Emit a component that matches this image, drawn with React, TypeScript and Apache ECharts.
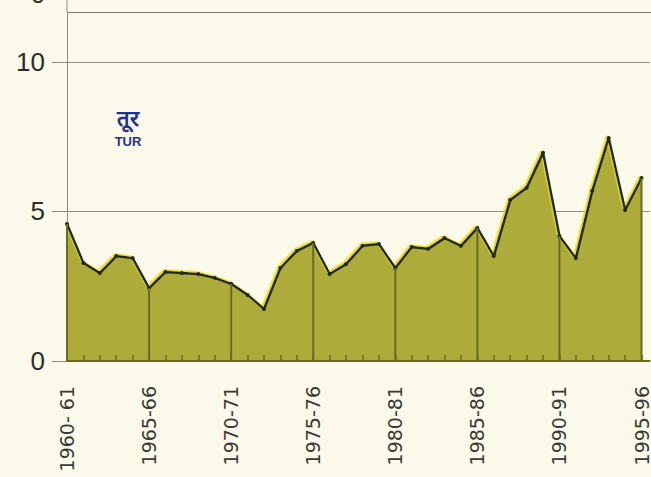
import React, { useEffect, useRef } from "react";
import * as echarts from "echarts";

const periods: string[] = [
  "1960- 61", "1961-62", "1962-63", "1963-64", "1964-65",
  "1965-66", "1966-67", "1967-68", "1968-69", "1969-70",
  "1970-71", "1971-72", "1972-73", "1973-74", "1974-75",
  "1975-76", "1976-77", "1977-78", "1978-79", "1979-80",
  "1980-81", "1981-82", "1982-83", "1983-84", "1984-85",
  "1985-86", "1986-87", "1987-88", "1988-89", "1989-90",
  "1990-91", "1991-92", "1992-93", "1993-94", "1994-95",
  "1995-96",
];

const turValues: number[] = [
  4.58, 3.28, 2.94, 3.51, 3.44,
  2.44, 2.98, 2.94, 2.91, 2.78,
  2.58, 2.21, 1.74, 3.11, 3.68,
  3.95, 2.91, 3.24, 3.85, 3.91,
  3.11, 3.81, 3.75, 4.11, 3.85,
  4.45, 3.51, 5.38, 5.79, 6.96,
  4.18, 3.44, 5.69, 7.46, 5.05,
  6.12,
];

const yTicks: number[] = [0, 5, 10];
const cropLabel = "तूर";
const cropLabelLatin = "TUR";

export default function App() {
  const ref = useRef<HTMLDivElement>(null);
  useEffect(() => {
    if (!ref.current) return;
    const chart = echarts.init(ref.current, null, { renderer: "svg" });
    const lineData = turValues.map((v, i) => [i, v]);
    const markerData = lineData.filter(([i]) => i % 5 === 0);
    const grid = "#8e8d80";
    const olive = "#6c6a28";
    chart.setOption({
      animation: false,
      backgroundColor: "#fbf9e9",
      grid: { left: 67, right: 0, top: 12, bottom: 116 },
      xAxis: {
        type: "value",
        z: 5,
        min: 0,
        max: 35.5,
        interval: 1,
        axisLine: { show: true, lineStyle: { color: olive, width: 2 } },
        axisTick: { show: true, inside: true, length: 6, lineStyle: { color: olive, width: 1.5 } },
        splitLine: { show: false },
        axisLabel: {
          rotate: 90,
          margin: 25,
          fontSize: 19,
          fontFamily: "DejaVu Sans",
          color: "#3a3a36",
          showMaxLabel: false,
          formatter: (v: number) =>
            Number.isInteger(v) && v % 5 === 0 && periods[v] ? periods[v] : "",
        },
      },
      yAxis: {
        type: "value",
        min: 0,
        max: 11.67,
        interval: 5,
        axisLine: { show: true, lineStyle: { color: grid, width: 1 } },
        axisTick: { show: true, length: 15, customValues: yTicks, lineStyle: { color: grid, width: 1 } },
        splitLine: { show: true, lineStyle: { color: grid, width: 1 } },
        axisLabel: {
          margin: 22,
          fontSize: 26,
          fontFamily: "Liberation Sans",
          color: "#2c2c2a",
          customValues: yTicks,
        },
      },
      graphic: [
        { type: "line", shape: { x1: 67, y1: 0, x2: 67, y2: 12 }, style: { stroke: grid, lineWidth: 1 } },
        { type: "line", shape: { x1: 67, y1: 12.5, x2: 651, y2: 12.5 }, style: { stroke: "#7a7970", lineWidth: 1.2 } },
        {
          type: "text",
          x: 38,
          y: 7,
          style: { text: "0", fontSize: 26, fontFamily: "Liberation Sans", fill: "#2c2c2a", align: "center", verticalAlign: "bottom" },
        },
        {
          type: "text",
          x: 128,
          y: 118,
          style: { text: cropLabel, fontSize: 22, fontWeight: "bold", fill: "#24308c", align: "center", verticalAlign: "middle" },
        },
        {
          type: "text",
          x: 128,
          y: 141,
          style: { text: cropLabelLatin, fontSize: 13, fontWeight: "bold", fontFamily: "Liberation Sans", fill: "#24308c", align: "center", verticalAlign: "middle" },
        },
      ],
      series: [
        {
          type: "line",
          data: lineData,
          z: 2,
          symbol: "circle",
          symbolSize: 4,
          itemStyle: { color: "#1e2a22" },
          lineStyle: {
            color: "#1e2a22",
            width: 2.5,
            shadowColor: "#f2da10",
            shadowOffsetX: -1.5,
            shadowOffsetY: -1.5,
            shadowBlur: 0,
          },
          areaStyle: { color: "#adab3a", opacity: 1 },
        },
        {
          type: "bar",
          data: markerData,
          z: 3,
          barWidth: 2,
          itemStyle: { color: olive },
        },
      ],
    });
    return () => chart.dispose();
  }, []);
  return (
    <div
      ref={ref}
      style={{ position: "fixed", left: 0, top: 0, width: 651, height: 477 }}
    />
  );
}
